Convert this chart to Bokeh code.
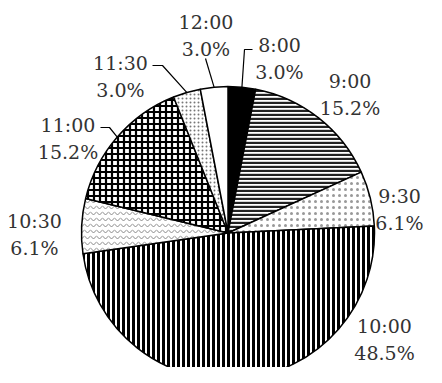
import math
from bokeh.plotting import figure
from bokeh.models import Range1d
from bokeh.embed import file_html
from bokeh.resources import INLINE
from bokeh.core.properties import value

# ---- data ----
times = ["8:00", "9:00", "9:30", "10:00", "10:30", "11:00", "11:30", "12:00"]
counts = [1, 5, 2, 16, 2, 5, 1, 1]

# ---- styles ----
fill_colors = ["black", "white", "white", "white", "white", "white", "white", "white"]
hatch_patterns = [" ", "horizontal_line", "dot", "vertical_line", "horizontal_wave", "cross", "dot", " "]
hatch_colors = ["black", "#222222", "#999999", "black", "#888888", "black", "#777777", "black"]
hatch_scales = [6, 4, 6, 5, 6, 6, 4, 6]
hatch_weights = [1, 2.4, 1, 3, 1, 2.2, 1, 1]

# ---- layout (image pixel coords) ----
CX, CY, R = 235.5, 240.5, 146.5
label_x = [287, 357.5, 407, 392, 42, 75.5, 128, 213.5]
label_base1 = [52, 88, 203, 333, 228, 132, 70, 29]
LINE_GAP = 27
# leader polylines from label side (image coords); final point is on pie edge (computed)
leaders = {
    "8:00": [(260, 57), (252, 57)],
    "11:00": [(108, 135), (117, 135)],
    "11:30": [(160, 73), (170, 73)],
    "12:00": [(213, 66)],
}

H_IMG = 383
def dy(y):
    return H_IMG - y

p = figure(width=426, height=367, output_backend="svg", toolbar_location=None,
           x_range=Range1d(8, 434), y_range=Range1d(8, 375), min_border=0)
p.axis.visible = False
p.grid.visible = False
p.outline_line_color = None
p.background_fill_color = "white"
p.border_fill_color = "white"

total = sum(counts)
cum = 0
mids = []
for i, c in enumerate(counts):
    a_end = math.pi / 2 - 2 * math.pi * cum / total
    cum += c
    a_start = math.pi / 2 - 2 * math.pi * cum / total
    mids.append((a_start + a_end) / 2)
    p.wedge(x=CX, y=dy(CY), radius=R, start_angle=a_start, end_angle=a_end,
            direction="anticlock", fill_color=fill_colors[i],
            hatch_pattern=hatch_patterns[i], hatch_color=hatch_colors[i],
            hatch_scale=hatch_scales[i], hatch_weight=hatch_weights[i],
            line_color="black", line_width=1.5)

font = value("DejaVu Serif")
for i, t in enumerate(times):
    pct = f"{counts[i] / total * 100:.1f}%"
    p.text(x=[label_x[i]], y=[dy(label_base1[i])], text=[t], text_font=font,
           text_font_size="19px", text_align="center", text_baseline="alphabetic",
           text_color="#333333")
    p.text(x=[label_x[i]], y=[dy(label_base1[i] + LINE_GAP)], text=[pct], text_font=font,
           text_font_size="19px", text_align="center", text_baseline="alphabetic",
           text_color="#333333")
    if t in leaders:
        pts = leaders[t]
        ex = CX + R * math.cos(mids[i])
        ey = dy(CY) + R * math.sin(mids[i])
        xs = [q[0] for q in pts] + [ex]
        ys = [dy(q[1]) for q in pts] + [ey]
        p.line(xs, ys, line_color="black", line_width=1.2)

open("out.html", "w").write(file_html(p, INLINE))
